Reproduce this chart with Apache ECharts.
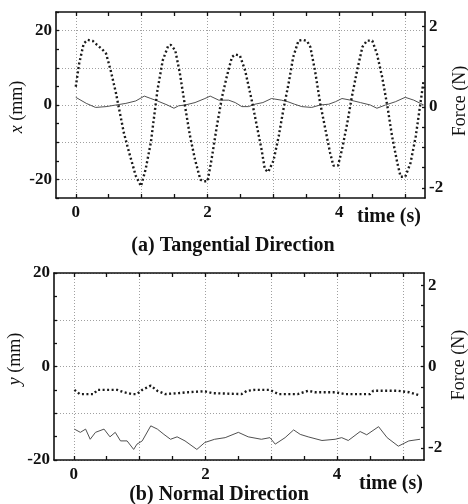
<!DOCTYPE html>
<html>
<head>
<meta charset="utf-8">
<script src="https://cdn.jsdelivr.net/npm/echarts@6/dist/echarts.min.js"></script>
<style>html,body{margin:0;padding:0;background:#fff;}#c{width:468px;height:504px;}</style>
</head>
<body>
<div id="c"></div>
<script>
// ---- Data ----
// (a) Tangential: position x (mm), dotted
const tPosA = [0,0.05,0.12,0.18,0.26,0.32,0.40,0.46,0.53,0.61,0.66,0.73,0.81,0.91,0.99,1.06,1.14,1.19,1.24,1.32,1.40,1.44,1.51,1.58,1.66,1.73,1.81,1.89,1.93,2.00,2.06,2.14,2.22,2.29,2.37,2.42,2.49,2.57,2.67,2.75,2.82,2.87,2.92,3.00,3.08,3.15,3.23,3.30,3.38,3.45,3.51,3.56,3.63,3.71,3.79,3.86,3.91,3.98,4.04,4.12,4.19,4.27,4.35,4.42,4.50,4.57,4.65,4.73,4.80,4.88,4.93,5.00,5.08,5.16,5.23,5.28];
const posA  = [4.9,11,16.5,17.5,17.2,16.2,15.0,13.8,9.3,3.2,-1.3,-7.5,-12.8,-19,-21.8,-17.3,-10,-3,4,12,15.8,16.2,14.7,8.5,-0.5,-8,-14.7,-20,-20.5,-20.5,-14.7,-5.8,2.2,7.5,12.9,13.6,13.3,9.3,1.3,-5.8,-12,-17.3,-18,-15,-8.4,-1.3,5.8,12.9,17.3,17.5,17.2,15.6,9.3,0.4,-6.7,-12.9,-16.3,-16.3,-12,-4.9,2.2,9.3,15.6,17.3,17.3,13.8,7.5,-0.4,-8.4,-15.6,-19.3,-19.3,-15.6,-8.4,0.4,6.7];
// (a) Tangential: force (N), solid
const tForceA = [0,0.16,0.30,0.46,0.61,0.76,0.91,1.04,1.14,1.24,1.39,1.49,1.56,1.66,1.81,1.96,2.04,2.17,2.32,2.42,2.52,2.62,2.72,2.84,2.97,3.12,3.22,3.32,3.43,3.58,3.71,3.84,3.94,4.04,4.17,4.32,4.47,4.57,4.70,4.85,5.00,5.13,5.23,5.28];
const forceA  = [0.24,0.09,-0.01,0.01,0.05,0.09,0.15,0.27,0.21,0.15,0.05,-0.03,0.03,0.05,0.11,0.21,0.27,0.17,0.17,0.11,0.01,0.01,0.07,0.11,0.21,0.17,0.13,0.07,0.01,-0.01,0.05,0.07,0.13,0.21,0.17,0.11,0.05,-0.03,0.05,0.13,0.24,0.17,0.09,0.05];
// (b) Normal: position y (mm), dotted
const tPosB = [0.01,0.09,0.30,0.36,0.66,0.76,0.89,0.96,1.04,1.17,1.27,1.39,1.59,1.74,1.99,2.11,2.55,2.63,2.75,2.98,3.11,3.40,3.56,3.66,3.97,4.12,4.50,4.55,4.93,5.09,5.26];
const posB  = [-5.0,-5.9,-5.9,-5.0,-5.0,-5.5,-5.9,-5.9,-5.0,-4.1,-5.2,-5.9,-5.7,-5.5,-5.3,-5.7,-5.9,-5.2,-5.0,-5.0,-5.9,-5.9,-5.2,-5.5,-5.5,-5.9,-5.9,-5.2,-5.2,-5.5,-6.2];
// (b) Normal: force (N), solid
const tForceB = [0.01,0.10,0.18,0.25,0.33,0.46,0.55,0.63,0.71,0.81,0.91,0.96,1.04,1.17,1.27,1.37,1.47,1.57,1.69,1.87,1.99,2.14,2.30,2.50,2.65,2.85,2.98,3.06,3.21,3.34,3.44,3.56,3.77,3.97,4.07,4.17,4.35,4.45,4.63,4.76,4.93,5.09,5.26];
const forceB  = [-1.54,-1.62,-1.54,-1.79,-1.62,-1.54,-1.73,-1.62,-1.83,-1.83,-2.04,-1.91,-1.83,-1.46,-1.54,-1.67,-1.79,-1.73,-1.83,-2.04,-1.87,-1.79,-1.75,-1.62,-1.73,-1.79,-1.75,-1.91,-1.75,-1.56,-1.67,-1.73,-1.82,-1.79,-1.75,-1.82,-1.60,-1.68,-1.48,-1.75,-1.96,-1.83,-1.79];
// ticks / labels
const timeLabels = [0,2,4];
const timeGrid = [0,1,2,3,4,5];
const timeTicks = [0,0.5,1,1.5,2,2.5,3,3.5,4,4.5,5];
const mmLabels = [-20,0,20];
const mmGrid = [-20,-10,0,10,20];
const mmTicks = [-25,-20,-15,-10,-5,0,5,10,15,20,25];
const nLabels = [-2,0,2];
const nTicks = [-2,-1.5,-1,-0.5,0,0.5,1,1.5,2];
const titles = ['(a) Tangential Direction','(b) Normal Direction'];
const xNames = ['time (s)','time (s)'];
const yNames = ['{i|x} (mm)','{i|y} (mm)'];
const rNames = ['Force (N)','Force (N)'];

const zip = (a,b) => a.map((v,i)=>[v,b[i]]);
const FONT = 'Liberation Serif';
const INK = '#111';

const grids = [
  {left:56, top:12, width:369, height:186, outerBoundsMode:'none', containLabel:false},
  {left:54, top:273, width:370, height:187, outerBoundsMode:'none', containLabel:false}
];
const tRange = [[-0.3,5.3],[-0.3,5.32]];
const mmRange = [[-25,25],[-20,20]];
const nRange = [[-2.25,2.35],[-2.3,2.3]];

const xAxes = [], yAxes = [], series = [];
grids.forEach((g,gi)=>{
  const [tmin,tmax] = tRange[gi];
  xAxes.push({gridIndex:gi,type:'value',position:'bottom',min:tmin,max:tmax,
    axisLine:{show:true,onZero:false,lineStyle:{color:INK,width:1.6}},
    axisTick:{show:true,inside:true,length:4,customValues:timeTicks,lineStyle:{color:INK,width:1.3}},
    axisLabel:{show:true,customValues:timeLabels,margin:6,fontFamily:FONT,fontSize:17,fontWeight:'bold',color:INK},
    splitLine:{show:false}});
  xAxes.push({gridIndex:gi,type:'value',position:'top',min:tmin,max:tmax,
    axisLine:{show:true,onZero:false,lineStyle:{color:INK,width:1.6}},
    axisTick:{show:true,inside:true,length:4,customValues:timeTicks,lineStyle:{color:INK,width:1.3}},
    axisLabel:{show:false},splitLine:{show:false}});
  xAxes.push({gridIndex:gi,type:'value',position:'bottom',min:tmin,max:tmax,
    axisLine:{show:false},axisTick:{show:false,customValues:timeGrid},axisLabel:{show:false},
    splitLine:{show:true,lineStyle:{color:'#a0a0a0',type:[1,2],width:1}}});

  const [ymin,ymax] = mmRange[gi];
  yAxes.push({gridIndex:gi,type:'value',position:'left',min:ymin,max:ymax,
    axisLine:{show:true,onZero:false,lineStyle:{color:INK,width:1.6}},
    axisTick:{show:true,inside:true,length:3,customValues:mmTicks,lineStyle:{color:INK,width:1.3}},
    axisLabel:{show:true,customValues:mmLabels,margin:4,fontFamily:FONT,fontSize:17,fontWeight:'bold',color:INK},
    splitLine:{show:false}});
  const [nmin,nmax] = nRange[gi];
  yAxes.push({gridIndex:gi,type:'value',position:'right',min:nmin,max:nmax,
    axisLine:{show:true,onZero:false,lineStyle:{color:INK,width:1.6}},
    axisTick:{show:true,inside:true,length:3,customValues:nTicks,lineStyle:{color:INK,width:1.3}},
    axisLabel:{show:true,customValues:nLabels,margin:4,fontFamily:FONT,fontSize:17,fontWeight:'bold',color:INK},
    splitLine:{show:false}});
  yAxes.push({gridIndex:gi,type:'value',position:'left',min:ymin,max:ymax,
    axisLine:{show:false},axisTick:{show:false,customValues:mmGrid},axisLabel:{show:false},
    splitLine:{show:true,lineStyle:{color:'#a0a0a0',type:[1,2],width:1}}});
});

const posData = [zip(tPosA,posA), zip(tPosB,posB)];
const forceData = [zip(tForceA,forceA), zip(tForceB,forceB)];
[0,1].forEach(gi=>{
  series.push({type:'line',xAxisIndex:gi*3,yAxisIndex:gi*3,data:posData[gi],showSymbol:false,symbol:'none',
    lineStyle:{color:'#1a1a1a',width:2.4,type:[2,2.5]},z:3});
  series.push({type:'line',xAxisIndex:gi*3,yAxisIndex:gi*3+1,data:forceData[gi],showSymbol:false,symbol:'none',
    lineStyle:{color:'#505050',width:1},z:2});
});

const txt = (text,x,y) => ({type:'text',x:x,y:y,style:{text:text,font:'bold 20px "Liberation Serif"',fill:INK,align:'center',verticalAlign:'middle'}});
const vtxt = (text,x,y) => ({type:'text',x:x,y:y,rotation:Math.PI/2,
  style:{text:text,font:'18px "Liberation Serif"',fill:INK,align:'center',verticalAlign:'middle',
    rich:{i:{font:'italic 18px "Liberation Serif"',fill:INK}}}});

const chart = echarts.init(document.getElementById('c'),null,{renderer:'canvas'});
chart.setOption({
  animation:false,
  backgroundColor:'#fff',
  graphic:[
    txt(titles[0],233,246),
    txt(titles[1],219,495),
    txt(xNames[0],389,217),
    txt(xNames[1],391,484),
    vtxt(yNames[0],17,107),
    vtxt(yNames[1],15,359),
    vtxt(rNames[0],460,101),
    vtxt(rNames[1],459,365)
  ],
  grid:grids,
  xAxis:xAxes,
  yAxis:yAxes,
  series:series
});
</script>
</body>
</html>
